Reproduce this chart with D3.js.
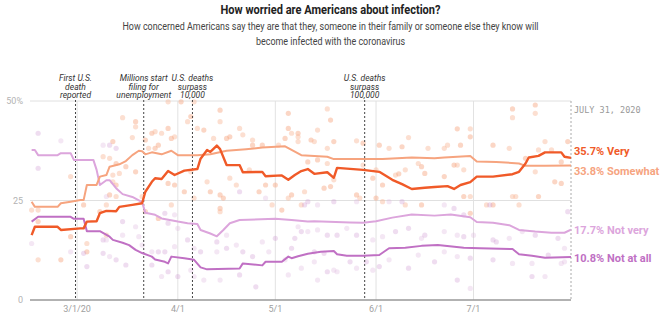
<!DOCTYPE html>
<html>
<head>
<meta charset="utf-8">
<script src="https://cdn.jsdelivr.net/npm/d3@7"></script>
<style>
  body { margin: 0; background: white; }
  text { font-family: Roboto, "Noto Sans", sans-serif; }
</style>
</head>
<body>
<script>
let w = 661;
let h = 327;

// rolling averages, [date, percent]
const very = [["2020-02-16",16.3],["2020-02-17",18.4],["2020-02-24",18.4],["2020-02-25",17.6],["2020-03-02",18.0],["2020-03-03",18.0],["2020-03-04",19.7],["2020-03-07",19.8],["2020-03-08",21.8],["2020-03-10",22.4],["2020-03-13",22.3],["2020-03-14",23.4],["2020-03-18",23.9],["2020-03-21",24.3],["2020-03-22",27.2],["2020-03-24",29.7],["2020-03-25",30.6],["2020-03-27",30.4],["2020-03-29",32.4],["2020-03-31",31.4],["2020-04-03",32.5],["2020-04-07",32.9],["2020-04-08",35.5],["2020-04-10",37.7],["2020-04-11",37.2],["2020-04-13",38.8],["2020-04-14",37.9],["2020-04-16",33.9],["2020-04-20",33.9],["2020-04-21",32.1],["2020-04-27",32.2],["2020-04-28",31.1],["2020-05-03",31.3],["2020-05-05",30.2],["2020-05-07",31.4],["2020-05-09",32.4],["2020-05-11",32.9],["2020-05-13",31.7],["2020-05-17",32.1],["2020-05-19",30.7],["2020-05-20",33.2],["2020-05-28",32.7],["2020-06-02",32.2],["2020-06-06",30.2],["2020-06-09",29.1],["2020-06-12",27.9],["2020-06-16",28.2],["2020-06-19",28.4],["2020-06-23",28.6],["2020-06-25",27.9],["2020-06-27",28.9],["2020-06-30",29.6],["2020-07-02",31.0],["2020-07-07",31.0],["2020-07-13",31.6],["2020-07-15",32.2],["2020-07-17",34.3],["2020-07-18",35.8],["2020-07-21",36.2],["2020-07-23",37.1],["2020-07-28",37.1],["2020-07-29",36.0],["2020-07-31",35.7]];

const somewhat = [["2020-02-16",24.7],["2020-02-17",23.4],["2020-02-24",23.4],["2020-02-25",24.3],["2020-02-28",24.7],["2020-03-02",25.1],["2020-03-03",25.1],["2020-03-04",28.9],["2020-03-07",28.9],["2020-03-08",31.0],["2020-03-10",31.4],["2020-03-11",33.5],["2020-03-14",34.1],["2020-03-16",34.9],["2020-03-18",36.4],["2020-03-20",37.5],["2020-03-21",37.4],["2020-03-22",36.6],["2020-03-24",37.1],["2020-03-27",36.6],["2020-03-30",37.5],["2020-04-01",36.4],["2020-04-07",36.4],["2020-04-11",36.6],["2020-04-16",37.5],["2020-04-22",37.9],["2020-04-27",38.3],["2020-05-04",38.6],["2020-05-06",37.7],["2020-05-09",36.4],["2020-05-17",36.0],["2020-05-19",35.4],["2020-06-03",35.4],["2020-06-12",35.8],["2020-06-19",35.6],["2020-06-22",35.8],["2020-06-30",36.2],["2020-07-02",34.8],["2020-07-08",34.7],["2020-07-15",34.3],["2020-07-17",33.7],["2020-07-23",33.7],["2020-07-31",33.8]];

const notVery = [["2020-02-16",37.7],["2020-02-17",37.7],["2020-02-18",36.4],["2020-02-24",36.4],["2020-02-25",36.9],["2020-02-28",36.9],["2020-02-29",35.2],["2020-03-06",35.2],["2020-03-07",32.7],["2020-03-08",28.9],["2020-03-10",30.1],["2020-03-11",30.1],["2020-03-13",28.1],["2020-03-15",26.6],["2020-03-18",25.9],["2020-03-21",24.6],["2020-03-22",21.9],["2020-03-25",21.4],["2020-03-27",20.5],["2020-04-01",19.7],["2020-04-04",19.3],["2020-04-07",19.1],["2020-04-08",17.6],["2020-04-11",16.7],["2020-04-13",16.0],["2020-04-15",17.6],["2020-04-17",19.3],["2020-04-20",20.1],["2020-05-01",20.4],["2020-05-06",20.1],["2020-05-11",19.7],["2020-05-13",19.8],["2020-05-24",19.5],["2020-05-28",19.4],["2020-06-01",19.8],["2020-06-06",20.7],["2020-06-12",21.5],["2020-06-19",21.2],["2020-06-24",21.5],["2020-06-30",20.8],["2020-07-02",19.6],["2020-07-07",19.4],["2020-07-12",18.8],["2020-07-15",17.6],["2020-07-20",17.2],["2020-07-25",16.9],["2020-07-29",16.9],["2020-07-31",17.7]];

const notAtAll = [["2020-02-16",19.7],["2020-02-18",20.9],["2020-02-28",20.9],["2020-02-29",20.4],["2020-03-03",20.4],["2020-03-04",17.3],["2020-03-08",17.3],["2020-03-11",15.9],["2020-03-12",15.1],["2020-03-15",14.4],["2020-03-17",13.8],["2020-03-19",12.6],["2020-03-21",11.8],["2020-03-24",10.9],["2020-03-25",10.2],["2020-03-28",9.6],["2020-03-29",9.2],["2020-03-30",10.9],["2020-04-03",10.5],["2020-04-06",10.1],["2020-04-08",8.2],["2020-04-10",7.7],["2020-04-20",7.9],["2020-04-21",9.2],["2020-04-27",8.7],["2020-04-28",9.6],["2020-05-03",9.6],["2020-05-05",10.9],["2020-05-06",10.5],["2020-05-08",11.0],["2020-05-11",11.6],["2020-05-15",12.1],["2020-05-19",12.3],["2020-05-20",11.5],["2020-05-23",11.1],["2020-05-28",11.1],["2020-06-02",11.3],["2020-06-05",13.0],["2020-06-10",13.1],["2020-06-15",13.6],["2020-06-20",13.8],["2020-06-28",13.1],["2020-07-03",13.0],["2020-07-13",12.8],["2020-07-15",11.5],["2020-07-19",11.1],["2020-07-23",10.6],["2020-07-31",10.8]];

// individual polls (very / somewhat worried)
const worriedPolls = [["2020-03-15",45.8],["2020-03-19",44.8],["2020-03-19",43.5],["2020-03-24",41.9],["2020-03-27",41.9],["2020-03-12",39.8],["2020-03-18",40.8],["2020-03-25",38.1],["2020-03-09",36.0],["2020-03-13",34.3],["2020-03-12",31.4],["2020-03-19",32.2],["2020-03-12",29.7],["2020-03-11",26.4],["2020-03-10",23.9],["2020-03-03",23.9],["2020-03-21",26.0],["2020-03-22",22.2],["2020-02-16",22.6],["2020-02-18",19.7],["2020-02-28",31.0],["2020-02-28",15.9],["2020-02-18",10.1],["2020-02-25",10.1],["2020-03-04",14.2],["2020-03-08",22.2],
  ["2020-03-25",42.3],["2020-03-22",40.2],["2020-03-23",38.1],["2020-03-26",38.9],["2020-03-11",35.6],["2020-03-16",33.5],["2020-03-14",31.8],["2020-03-13",28.9],["2020-03-13",26.0],["2020-03-26",20.5],["2020-02-18",22.6],["2020-03-04",12.1],["2020-03-10",16.3],
  ["2020-03-29",43.1],["2020-03-31",41.0],["2020-04-05",46.1],["2020-04-07",43.1],["2020-04-14",47.7],["2020-04-12",40.6],["2020-04-17",41.0],["2020-04-20",43.1],["2020-04-24",38.9],["2020-05-02",38.9],["2020-05-05",46.9],["2020-05-08",41.0],["2020-03-29",29.3],["2020-04-05",32.2],["2020-04-11",27.2],["2020-04-19",28.9],["2020-04-26",27.2],["2020-05-05",25.6],["2020-05-03",22.6],["2020-03-30",23.9],["2020-04-14",23.0],["2020-04-06",25.6],["2020-04-28",28.9],["2020-03-29",49.8],["2020-04-02",49.8],["2020-04-06",49.8],
  ["2020-03-30",40.6],["2020-04-04",44.8],["2020-04-09",42.7],["2020-04-14",44.8],["2020-04-16",40.6],["2020-04-21",41.5],["2020-04-27",38.9],["2020-04-24",40.2],["2020-05-05",43.1],["2020-05-06",41.9],["2020-05-04",40.6],["2020-05-08",39.8],["2020-03-31",28.9],["2020-04-10",29.7],["2020-04-14",26.4],["2020-04-17",30.6],["2020-04-15",25.6],["2020-04-23",32.7],["2020-05-01",28.9],["2020-04-30",23.9],["2020-04-03",27.2],["2020-04-14",22.2],["2020-05-06",26.4],
  ["2020-05-17",48.0],["2020-05-18",45.2],["2020-05-14",42.7],["2020-05-12",40.2],["2020-05-26",40.0],["2020-06-02",38.9],["2020-06-11",40.8],["2020-05-14",35.2],["2020-05-28",33.9],["2020-06-03",28.9],["2020-06-07",31.4],["2020-06-15",33.5],["2020-05-10",27.2],["2020-05-18",28.5],["2020-05-27",25.6],["2020-06-01",25.6],["2020-06-10",23.9],["2020-06-15",23.9],["2020-05-09",23.9],
  ["2020-05-08",41.9],["2020-05-13",39.8],["2020-05-19",39.8],["2020-05-17",38.1],["2020-05-28",39.4],["2020-06-05",38.1],["2020-06-09",38.5],["2020-06-17",38.1],["2020-05-11",34.7],["2020-05-17",34.3],["2020-05-31",30.6],["2020-06-01",32.7],["2020-06-08",31.7],["2020-06-14",34.3],["2020-06-16",31.8],["2020-06-10",32.7],["2020-05-16",28.1],["2020-05-19",30.2],["2020-05-26",26.4],["2020-06-03",24.7],
  ["2020-07-13",48.0],["2020-07-13",45.8],["2020-07-20",49.0],["2020-07-20",46.9],["2020-06-26",43.0],["2020-06-30",43.0],["2020-06-30",41.0],["2020-06-22",38.1],["2020-07-07",38.9],["2020-07-23",39.8],["2020-07-30",39.8],["2020-06-26",33.9],["2020-06-22",31.0],["2020-07-20",32.2],["2020-07-26",29.7],["2020-07-13",26.0],["2020-07-21",26.0],["2020-06-30",26.0],["2020-07-07",23.9],["2020-07-15",23.9],["2020-07-28",34.7],
  ["2020-06-23",38.9],["2020-06-27",38.9],["2020-07-12",38.1],["2020-07-17",35.6],["2020-07-21",37.7],["2020-06-25",33.9],["2020-06-28",32.7],["2020-07-28",29.3],["2020-07-14",26.0],["2020-06-28",26.0],["2020-07-05",23.9],["2020-06-30",21.8],["2020-07-25",37.7]];

// individual polls (not very / not at all)
const unworriedPolls = [["2020-02-18",41.9],["2020-02-25",40.0],["2020-02-18",33.1],["2020-03-09",38.9],["2020-03-11",38.9],["2020-03-10",26.0],["2020-03-09",15.1],["2020-03-11",10.9],["2020-03-16",8.8],["2020-03-19",18.4],["2020-03-15",19.7],["2020-03-15",16.3],["2020-03-03",11.7],["2020-02-28",12.1],["2020-03-04",8.4],["2020-03-21",13.8],["2020-03-24",8.8],["2020-03-27",5.9],["2020-03-26",12.1],["2020-02-16",14.2],
  ["2020-03-13",38.1],["2020-03-10",15.1],["2020-03-13",10.1],["2020-03-20",15.9],["2020-03-09",11.7],["2020-03-24",12.1],
  ["2020-03-28",21.8],["2020-03-31",21.4],["2020-04-04",15.1],["2020-04-06",13.0],["2020-03-29",7.1],["2020-04-05",7.5],["2020-04-13",14.6],["2020-04-16",16.3],["2020-04-20",6.3],["2020-04-27",14.6],["2020-05-01",15.5],["2020-05-05",6.3],["2020-04-25",3.3],["2020-05-08",18.4],["2020-04-20",27.2],["2020-04-09",5.0],["2020-04-24",10.9],["2020-05-04",10.1],
  ["2020-03-29",19.3],["2020-04-01",18.0],["2020-03-28",12.1],["2020-03-31",13.4],["2020-04-01",5.9],["2020-04-06",5.9],["2020-04-08",12.1],["2020-04-13",12.1],["2020-04-16",13.0],["2020-04-19",13.8],["2020-04-21",12.1],["2020-04-29",12.1],["2020-05-06",13.0],["2020-04-14",5.0],["2020-05-07",15.5],["2020-04-28",25.6],
  ["2020-05-11",24.7],["2020-05-26",24.7],["2020-06-09",24.7],["2020-05-11",17.2],["2020-05-20",16.3],["2020-05-31",15.1],["2020-06-11",18.0],["2020-05-09",8.0],["2020-05-17",7.1],["2020-05-26",8.0],["2020-06-11",8.0],["2020-05-14",5.0],["2020-05-29",9.6],["2020-06-14",11.3],
  ["2020-05-10",23.9],["2020-05-14",23.9],["2020-05-19",24.7],["2020-06-05",24.7],["2020-05-09",17.2],["2020-05-14",17.6],["2020-05-17",16.3],["2020-05-23",18.0],["2020-05-26",16.3],["2020-06-03",15.9],["2020-06-07",17.2],["2020-06-15",15.5],["2020-06-16",16.3],["2020-05-13",9.6],["2020-05-16",11.7],["2020-05-20",7.1],["2020-05-24",9.6],["2020-05-31",7.5],["2020-06-02",8.4],["2020-06-05",10.1],["2020-06-19",9.6],["2020-05-19",7.5],["2020-05-13",12.1],
  ["2020-06-22",23.9],["2020-06-28",21.4],["2020-06-26",16.3],["2020-07-07",15.1],["2020-07-16",17.2],["2020-07-27",15.5],["2020-06-22",12.1],["2020-07-07",10.1],["2020-07-19",9.2],["2020-07-19",5.9],["2020-07-23",5.9],["2020-06-26",5.0],["2020-06-30",2.9],["2020-07-30",22.2],["2020-07-29",13.0],
  ["2020-06-25",23.0],["2020-06-22",17.2],["2020-06-28",15.9],["2020-07-01",16.3],["2020-07-08",14.6],["2020-07-12",15.5],["2020-07-20",16.3],["2020-06-26",10.9],["2020-06-30",10.5],["2020-07-13",9.2],["2020-07-24",11.3],["2020-07-28",9.2],["2020-07-06",23.9],["2020-07-29",9.6]];

const seriesNames = ["Very", "Somewhat", "Not very", "Not at all"];
const seriesColors = ["#f05a28", "#f6a47f", "#dca5dc", "#c070c4"];

const eventDates = ["2020-02-29", "2020-03-21", "2020-04-05", "2020-05-28"];
const eventLabels = [["First U.S.", "death", "reported"], ["Millions start", "filing for", "unemployment"], ["U.S. deaths", "surpass", "10,000"], ["U.S. deaths", "surpass", "100,000"]];

const tickDates = ["2020-03-01", "2020-04-01", "2020-05-01", "2020-06-01", "2020-07-01"];
const tickLabels = ["3/1/20", "4/1", "5/1", "6/1", "7/1"];
const yTicks = [0, 25, 50];
const yTickLabels = ["0", "25", "50%"];

const parse = d3.timeParse("%Y-%m-%d");

const svg = d3.select('body')
  .append('svg')
  .attr('width', w)
  .attr('height', h)
  .style("background-color", "white");

const x = d3.scaleTime()
  .domain([d3.timeHour.offset(parse("2020-02-15"), 12), parse("2020-07-31")])
  .range([30, 571]);
const y = d3.scaleLinear().domain([0, 50]).range([300, 101]);

// titles
svg.append("text")
  .attr("x", w / 2).attr("y", 13.5)
  .attr("text-anchor", "middle")
  .attr("textLength", 220).attr("lengthAdjust", "spacingAndGlyphs")
  .style("font-size", "13.5px").style("font-weight", "bold").style("fill", "#222")
  .text("How worried are Americans about infection?");

svg.append("text")
  .attr("x", w / 2).attr("y", 29.5)
  .attr("text-anchor", "middle")
  .attr("textLength", 416).attr("lengthAdjust", "spacingAndGlyphs")
  .style("font-size", "10.5px").style("fill", "#444")
  .text("How concerned Americans say they are that they, someone in their family or someone else they know will");

svg.append("text")
  .attr("x", w / 2).attr("y", 44.5)
  .attr("text-anchor", "middle")
  .attr("textLength", 149).attr("lengthAdjust", "spacingAndGlyphs")
  .style("font-size", "10.5px").style("fill", "#444")
  .text("become infected with the coronavirus");

// grid
svg.append("g")
  .selectAll("line")
  .data(tickDates)
  .enter()
  .append("line")
  .attr("x1", d => x(parse(d))).attr("x2", d => x(parse(d)))
  .attr("y1", y(50)).attr("y2", y(0))
  .style("stroke", "#e2e2e2");

svg.append("g")
  .selectAll("line")
  .data(yTicks)
  .enter()
  .append("line")
  .attr("x1", x.range()[0]).attr("x2", x.range()[1])
  .attr("y1", d => y(d)).attr("y2", d => y(d))
  .style("stroke", d => d === 0 ? "#999" : "#e0e0e0")
  .style("stroke-width", d => d === 0 ? 1.5 : 1);

svg.append("g")
  .selectAll("text")
  .data(yTicks)
  .enter()
  .append("text")
  .attr("x", 23).attr("y", d => y(d) + 3)
  .attr("text-anchor", "end")
  .style("font-size", "9px").style("fill", "#b3b3b3")
  .text((d, i) => yTickLabels[i]);

svg.append("g")
  .selectAll("text")
  .data(tickDates)
  .enter()
  .append("text")
  .attr("x", d => x(parse(d))).attr("y", 312)
  .attr("text-anchor", "middle")
  .style("font-size", "9px").style("fill", "#a0a0a0")
  .text((d, i) => tickLabels[i]);

// end-date marker
svg.append("line")
  .attr("x1", x.range()[1]).attr("x2", x.range()[1])
  .attr("y1", y(50)).attr("y2", y(0))
  .style("stroke", "#aaa").style("stroke-dasharray", "2,2");

svg.append("text")
  .attr("x", x.range()[1] + 3).attr("y", 113)
  .style("font-family", "'DejaVu Sans Mono', monospace")
  .style("font-size", "8.5px").style("fill", "#999")
  .text("JULY 31, 2020");

// polls
svg.append("g")
  .selectAll("circle")
  .data(worriedPolls)
  .enter()
  .append("circle")
  .attr("cx", d => x(parse(d[0]))).attr("cy", d => y(d[1]))
  .attr("r", 2.6)
  .style("fill", (d, i) => i % 2 ? "#f6a47f" : "#f9b89a")
  .style("opacity", 0.45);

svg.append("g")
  .selectAll("circle")
  .data(unworriedPolls)
  .enter()
  .append("circle")
  .attr("cx", d => x(parse(d[0]))).attr("cy", d => y(d[1]))
  .attr("r", 2.6)
  .style("fill", (d, i) => i % 2 ? "#d9b0dc" : "#c98dcc")
  .style("opacity", 0.3);

// events
const ev = svg.append("g")
  .selectAll("g")
  .data(eventDates)
  .enter()
  .append("g")
  .attr("transform", d => `translate(${x(d3.timeHour.offset(parse(d), 12))},0)`);

ev.append("line")
  .attr("y1", 100).attr("y2", y(0))
  .style("stroke", "#444").style("stroke-dasharray", "2,2");

ev.append("text")
  .attr("text-anchor", "middle")
  .style("font-size", "8.5px").style("font-style", "italic").style("fill", "#333")
  .selectAll("tspan")
  .data((d, i) => eventLabels[i])
  .enter()
  .append("tspan")
  .attr("x", 0)
  .attr("y", (d, i) => 81 + i * 8.6)
  .text(d => d);

// lines
const line = d3.line()
  .x(d => x(parse(d[0])))
  .y(d => y(d[1]));

const allSeries = [very, somewhat, notVery, notAtAll];
const drawOrder = [3, 2, 1, 0];

svg.append("g")
  .selectAll("path")
  .data(drawOrder)
  .enter()
  .append("path")
  .attr("d", i => line(allSeries[i]))
  .style("fill", "none")
  .style("stroke", i => seriesColors[i])
  .style("stroke-width", i => i === 0 ? 2.4 : 2)
  .style("stroke-linejoin", "round");

// end labels
const labelNudge = [-3, 9.5, 4, 4.5];
svg.append("g")
  .selectAll("text")
  .data(allSeries)
  .enter()
  .append("text")
  .attr("x", x.range()[1] + 3)
  .attr("y", (d, i) => y(d[d.length - 1][1]) + labelNudge[i])
  .style("font-size", "11px").style("font-weight", "bold")
  .style("fill", (d, i) => seriesColors[i])
  .text((d, i) => d[d.length - 1][1].toFixed(1) + "% " + seriesNames[i]);
</script>
</body>
</html>
